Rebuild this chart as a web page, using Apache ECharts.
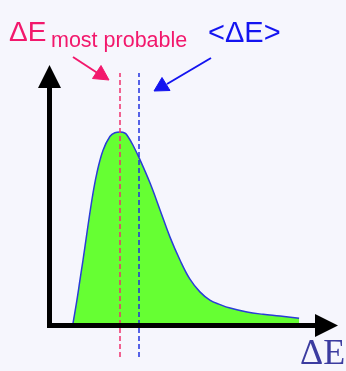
<!DOCTYPE html>
<html>
<head>
<meta charset="utf-8">
<script src="https://cdn.jsdelivr.net/npm/echarts@6/dist/echarts.min.js"></script>
<style>
  html, body { margin: 0; padding: 0; background: #f6f6fd; }
  #chart { width: 346px; height: 371px; }
</style>
</head>
<body>
<div id="chart"></div>
<script>
// energy loss distribution (Landau-like), arbitrary units
const lossValues = [8.5, 9.9, 11.0, 12.1, 15.3, 17.1, 19.3, 21.8, 23.6, 25.5, 27.3, 28.3, 30.1, 32.7, 36.3, 39.9, 43.5, 47.1, 50.7, 54.3, 57.9, 61.6, 65.2, 71.3, 77.1, 83.2, 90.1]
const probValues = [1.0, 10.2, 18.3, 26.3, 50.4, 61.2, 70.3, 75.9, 77.4, 77.7, 77.2, 75.9, 72.5, 66.5, 57.2, 46.4, 35.5, 26.3, 18.6, 13.5, 10.2, 8.4, 7.0, 5.4, 4.5, 3.8, 2.9]
const mostProbable = 25.5
const meanLoss = 32.3

const labelMostProbable = 'ΔE'
const labelMostProbableSub = 'most probable'
const labelMean = '<ΔE>'
const labelAxis = 'ΔE'

const red = '#f2186c'
const blue = '#1414f0'

const chart = echarts.init(document.getElementById('chart'))

const curve = lossValues.map((x, i) => [x, probValues[i]])

chart.setOption({
  backgroundColor: '#f6f6fd',
  animation: false,
  grid: [
    { left: 49.5, right: 19.5, top: 76.5, bottom: 45.5 },
    // taller grid only for the dashed markers
    { left: 49.5, right: 19.5, top: 73, bottom: 14 }
  ],
  xAxis: [
    {
      type: 'value',
      gridIndex: 0,
      min: 0,
      max: 100,
      z: 10,
      axisLine: {
        show: true,
        symbol: ['none', 'triangle'],
        symbolSize: [23, 23],
        lineStyle: { color: '#000', width: 5, cap: 'square' }
      },
      axisTick: { show: false },
      axisLabel: { show: false },
      splitLine: { show: false }
    },
    { type: 'value', gridIndex: 1, min: 0, max: 100, show: false }
  ],
  yAxis: [
    {
      type: 'value',
      gridIndex: 0,
      min: 0,
      max: 100,
      z: 10,
      axisLine: {
        show: true,
        symbol: ['none', 'triangle'],
        symbolSize: [23, 23],
        lineStyle: { color: '#000', width: 5, cap: 'square' }
      },
      axisTick: { show: false },
      axisLabel: { show: false },
      splitLine: { show: false }
    },
    { type: 'value', gridIndex: 1, min: 0, max: 1, show: false }
  ],
  series: [
    {
      type: 'line',
      xAxisIndex: 0,
      yAxisIndex: 0,
      data: curve,
      smooth: 0.4,
      showSymbol: false,
      lineStyle: { color: '#2a3cd8', width: 1.5 },
      areaStyle: { color: '#66ff33', opacity: 1 }
    },
    {
      type: 'line',
      xAxisIndex: 1,
      yAxisIndex: 1,
      data: [],
      markLine: {
        silent: true,
        symbol: ['none', 'none'],
        label: { show: false },
        data: [
          { xAxis: mostProbable, lineStyle: { color: '#f0306e', width: 1.5, type: [5, 3] } },
          { xAxis: meanLoss, lineStyle: { color: '#2030e0', width: 1.5, type: [5, 3] } }
        ]
      }
    }
  ],
  graphic: [
    { type: 'text', left: 9, top: 19, style: { text: labelMostProbable, font: '28px "Liberation Sans", Arial, sans-serif', fill: red } },
    { type: 'text', left: 51, top: 30, style: { text: labelMostProbableSub, font: '21.5px "Liberation Sans", Arial, sans-serif', fill: red } },
    { type: 'text', left: 208, top: 19, style: { text: labelMean, font: '29px "Liberation Sans", Arial, sans-serif', fill: blue } },
    { type: 'text', left: 300, top: 337, style: { text: labelAxis, font: '36px "Liberation Serif", "Times New Roman", serif', fill: '#3c3ca0' } },
    // pointer arrows
    { type: 'line', z: 100, shape: { x1: 73, y1: 57, x2: 99, y2: 74 }, style: { stroke: red, lineWidth: 2 } },
    { type: 'polygon', z: 100, shape: { points: [[109, 80], [92.5, 78.5], [101, 65.5]] }, style: { fill: red, stroke: red, lineWidth: 1 } },
    { type: 'line', z: 100, shape: { x1: 211, y1: 58, x2: 167, y2: 84 }, style: { stroke: blue, lineWidth: 2 } },
    { type: 'polygon', z: 100, shape: { points: [[154, 91], [162, 77.5], [170, 90.5]] }, style: { fill: blue, stroke: blue, lineWidth: 1 } }
  ]
})
</script>
</body>
</html>
